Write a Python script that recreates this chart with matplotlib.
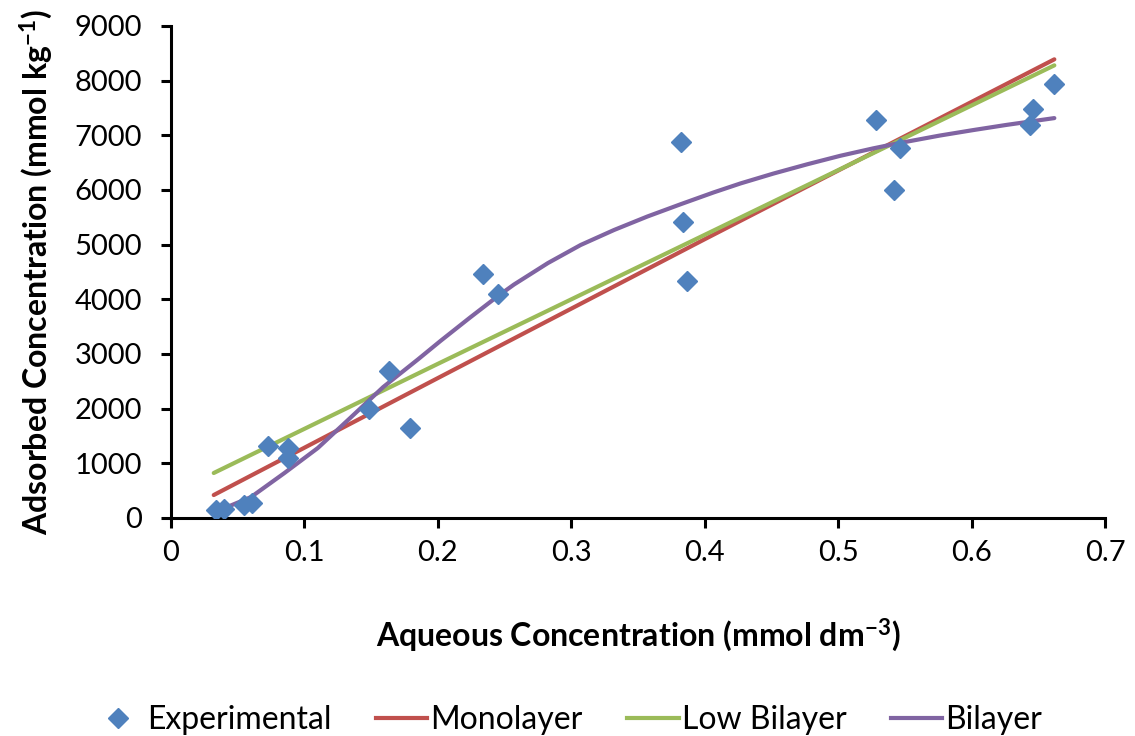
import numpy as np
import matplotlib
matplotlib.use('Agg')
import matplotlib.pyplot as plt
from matplotlib.lines import Line2D

plt.rcParams['font.family'] = ['Lato', 'DejaVu Sans']
plt.rcParams['mathtext.default'] = 'regular'

# experimental points
exp_x = [0.034, 0.040, 0.0545, 0.0605, 0.073, 0.088, 0.0875, 0.148, 0.163, 0.179,
         0.234, 0.245, 0.382, 0.384, 0.387, 0.528, 0.546, 0.542, 0.644, 0.646, 0.662]
exp_y = [150, 170, 240, 275, 1317, 1280, 1097, 1994, 2689, 1646,
         4460, 4095, 6874, 5411, 4333, 7276, 6764, 5996, 7185, 7477, 7934]

# fitted models
mono_x = [0.032, 0.200, 0.400, 0.662]
mono_y = [420, 2560, 5100, 8390]
low_x = [0.032, 0.200, 0.400, 0.662]
low_y = [823, 2820, 5180, 8280]
bi_x = [0.042, 0.060, 0.085, 0.110, 0.135, 0.159, 0.185, 0.202, 0.224, 0.245, 0.257,
        0.2825, 0.307, 0.332, 0.357, 0.382, 0.4066, 0.4268, 0.4514, 0.4768,
        0.5015, 0.526, 0.544, 0.576, 0.601, 0.626, 0.662]
bi_y = [200, 384, 823, 1280, 1846, 2395, 2900, 3240, 3665, 4060, 4270,
        4664, 4994, 5268, 5515, 5740, 5955, 6120, 6300, 6470,
        6625, 6760, 6850, 6995, 7095, 7190, 7315]

c_exp = '#4F81BD'
c_mono = '#C0504D'
c_low = '#9BBB59'
c_bi = '#8064A2'
lw = 3.0

fig = plt.figure(figsize=(11.35, 7.36), dpi=100)
ax = fig.add_axes([0.1507, 0.2962, 0.8229, 0.6685])

ax.plot(mono_x, mono_y, color=c_mono, lw=lw, solid_capstyle='round')
ax.plot(low_x, low_y, color=c_low, lw=lw, solid_capstyle='round')
ax.plot(bi_x, bi_y, color=c_bi, lw=lw, solid_capstyle='round', solid_joinstyle='round')
ax.plot(exp_x, exp_y, 'D', color=c_exp, ms=10.5, mec=c_exp, ls='none', zorder=5)

ax.set_xlim(0, 0.7)
ax.set_ylim(0, 9000)
ax.set_xticks(np.arange(0, 0.71, 0.1))
ax.set_xticklabels(['0', '0.1', '0.2', '0.3', '0.4', '0.5', '0.6', '0.7'])
ax.set_yticks(np.arange(0, 9001, 1000))
for s in ['top', 'right']:
    ax.spines[s].set_visible(False)
for s in ['left', 'bottom']:
    ax.spines[s].set_linewidth(2.2)
ax.tick_params(axis='both', direction='out', length=7, width=2.2, labelsize=21, colors='black')
ax.tick_params(axis='x', pad=9)
ax.tick_params(axis='y', pad=14)

ax.set_xlabel('Aqueous Concentration (mmol dm$^{-3}$)', fontsize=23, fontweight='bold', labelpad=36)
ax.set_ylabel('Adsorbed Concentration (mmol kg$^{-1}$)', fontsize=23, fontweight='bold', labelpad=14)

handles = [
    Line2D([], [], marker='D', color=c_exp, ls='none', ms=10.5),
    Line2D([], [], color=c_mono, lw=lw),
    Line2D([], [], color=c_low, lw=lw),
    Line2D([], [], color=c_bi, lw=lw),
]
labels = ['Experimental', 'Monolayer', 'Low Bilayer', 'Bilayer']
fig.legend(handles, labels, loc='lower center', bbox_to_anchor=(0.5, -0.038), ncol=4,
           frameon=False, fontsize=23, handlelength=1.6, handletextpad=0.1, columnspacing=1.4)

fig.savefig('out.png', dpi=100)
